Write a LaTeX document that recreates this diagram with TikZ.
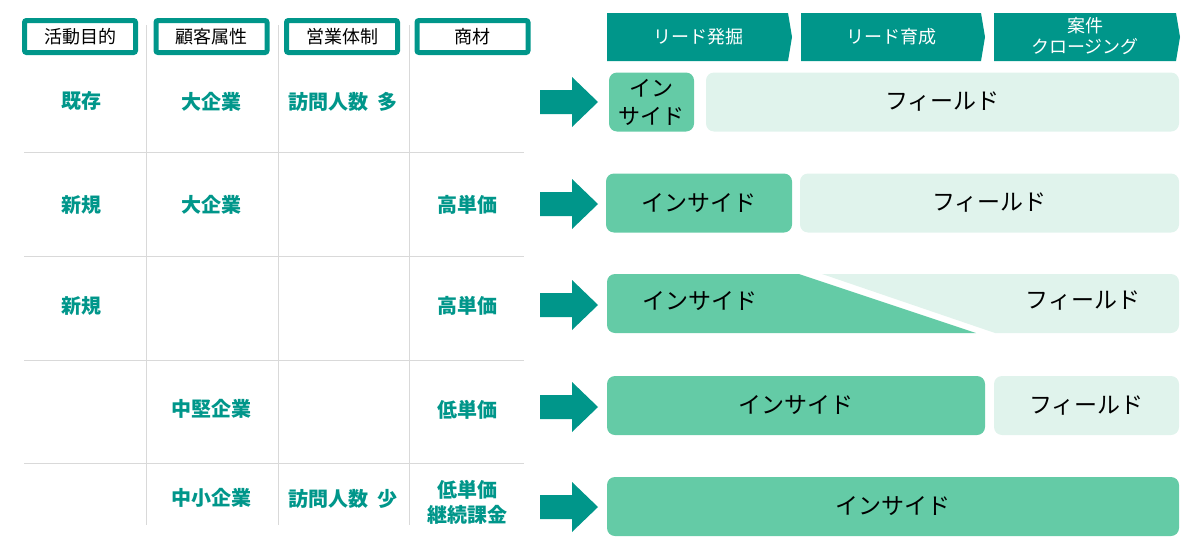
\documentclass[tikz,border=0pt]{standalone}
\usepackage{fontspec}
\setmainfont{Noto Sans CJK JP}
\usetikzlibrary{positioning}
\definecolor{teal}{HTML}{00968A}
\definecolor{inGreen}{HTML}{64CBA6}
\definecolor{fieldGreen}{HTML}{E0F3EC}
\definecolor{gridGray}{HTML}{D9D9D9}

\begin{document}
\begin{tikzpicture}[x=1pt,y=-1pt,
 hdr/.style={draw=teal,line width=5pt,rounded corners=2pt,minimum width=111pt,minimum height=32pt,inner sep=0pt,font=\fontsize{18}{21}\selectfont},
 lbl/.style={text=teal,align=center,font=\fontsize{20}{25}\selectfont\bfseries},
 stage/.style={text=white,align=center,font=\fontsize{18}{21}\selectfont},
 inbox/.style={fill=inGreen,rounded corners=8pt,minimum height=59pt,inner sep=0pt,align=center,font=\fontsize{23}{28}\selectfont},
 fieldbox/.style={inbox,fill=fieldGreen}]
\useasboundingbox (0,0) rectangle (1194,557);
% table grid
\foreach \gx in {146,278,409} \draw[gridGray,line width=1pt] (\gx,25) -- (\gx,525);
\foreach \gy in {152,256,360,463} \draw[gridGray,line width=1pt] (24,\gy) -- (524,\gy);
% column headers
\node[hdr] (hPurpose) at (80,36.5) {活動目的};
\node[hdr] (hCustomer) at (211.5,36.5) {顧客属性};
\node[hdr] (hSales) at (342,36.5) {営業体制};
\node[hdr] (hProduct) at (472.5,36.5) {商材};
% row labels
\node[lbl] (r1a) at (81,101) {既存};
\node[lbl] (r1b) at (211,102) {大企業};
\node[lbl] (r1c) at (343,102) {訪問人数\hspace{0.45em}多};
\node[lbl] (r2a) at (81,205) {新規};
\node[lbl] (r2b) at (211,205) {大企業};
\node[lbl] (r2d) at (467,205) {高単価};
\node[lbl] (r3a) at (81,306) {新規};
\node[lbl] (r3d) at (467,306) {高単価};
\node[lbl] (r4b) at (211,409) {中堅企業};
\node[lbl] (r4d) at (467,410) {低単価};
\node[lbl] (r5b) at (211,498) {中小企業};
\node[lbl] (r5c) at (343,499) {訪問人数\hspace{0.45em}少};
\node[lbl] (r5d) at (467,502) {低単価\\継続課金};
% row arrows
\foreach \ay in {102,204,305,407,507}
 \fill[teal] (540,\ay-12) -- (572,\ay-12) -- (572,\ay-25) -- (598,\ay) -- (572,\ay+25) -- (572,\ay+12) -- (540,\ay+12) -- cycle;
% process stages
\foreach \sl/\sr in {607/788,801/981,994/1176}
 \fill[teal] (\sl,13) -- (\sr,13) -- (\sr+4,37) -- (\sr,61) -- (\sl,61) -- cycle;
\node[stage] (sFind) at (698,37) {リード発掘};
\node[stage] (sNurture) at (891,37) {リード育成};
\node[stage] (sClose) at (1085,36) {案件\\クロージング};
% row 1
\node[inbox,minimum width=85pt,font=\fontsize{22}{28}\selectfont] (in1) at (651.5,102) {イン\\サイド};
\node[fieldbox,minimum width=473pt] (fd1) at (942.5,102) {フィールド};
% row 2
\node[inbox,minimum width=186pt] (in2) at (699,203) {インサイド};
\node[fieldbox,minimum width=379pt] (fd2) at (989.5,203) {フィールド};
% row 3 (split by a diagonal)
\begin{scope}
 \clip (607,274) -- (799,274) -- (976,333) -- (607,333) -- cycle;
 \fill[inGreen,rounded corners=8pt] (607,274) rectangle (1179,333);
\end{scope}
\begin{scope}
 \clip (822,274) -- (1179,274) -- (1179,333) -- (995,333) -- cycle;
 \fill[fieldGreen,rounded corners=8pt] (607,274) rectangle (1179,333);
\end{scope}
\node[font=\fontsize{23}{28}\selectfont] (in3) at (700,301) {インサイド};
\node[font=\fontsize{23}{28}\selectfont] (fd3) at (1083,301) {フィールド};
% row 4
\node[inbox,minimum width=378pt] (in4) at (796,405.5) {インサイド};
\node[fieldbox,minimum width=185pt] (fd4) at (1086.5,405.5) {フィールド};
% row 5
\node[inbox,minimum width=572pt] (in5) at (893,506.5) {インサイド};
\end{tikzpicture}
\end{document}
